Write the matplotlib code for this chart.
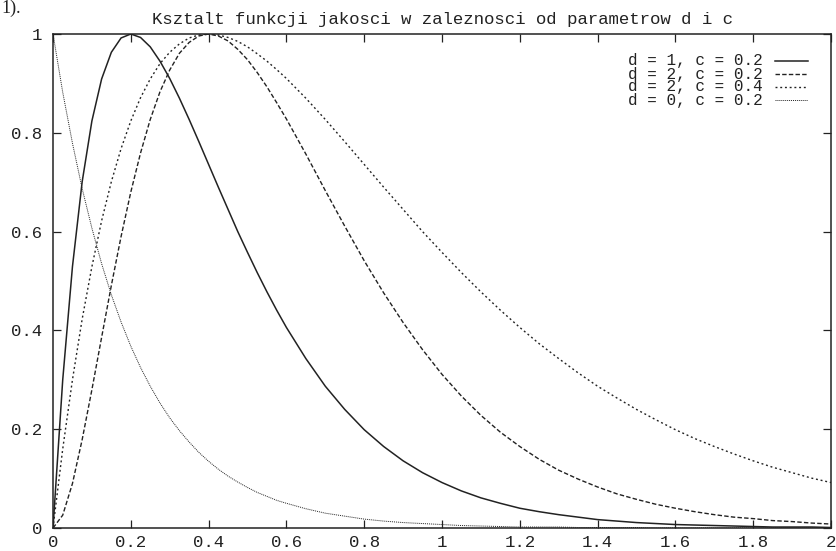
"""Ksztalt funkcji jakosci - wykres w stylu gnuplota."""

import matplotlib

matplotlib.use("Agg")
import matplotlib.pyplot as plt

plt.rcParams["font.family"] = ["Liberation Mono", "DejaVu Sans Mono"]
plt.rcParams["lines.scale_dashes"] = False

TITLE = "Ksztalt funkcji jakosci w zaleznosci od parametrow d i c"

# wartosci
x = [0.0, 0.025, 0.05, 0.075, 0.1, 0.125, 0.15, 0.175, 0.2, 0.225, 0.25, 0.275,
     0.3, 0.325, 0.35, 0.375, 0.4, 0.425, 0.45, 0.475, 0.5, 0.525, 0.55, 0.575,
     0.6, 0.65, 0.7, 0.75, 0.8, 0.85, 0.9, 0.95, 1.0, 1.05, 1.1, 1.15, 1.2,
     1.25, 1.3, 1.35, 1.4, 1.45, 1.5, 1.55, 1.6, 1.65, 1.7, 1.75, 1.8, 1.85,
     1.9, 1.95, 2.0]

q_d1_c02 = [0.0, 0.300, 0.529, 0.701, 0.824, 0.909, 0.963, 0.992, 1.000, 0.993,
            0.974, 0.945, 0.910, 0.870, 0.827, 0.782, 0.736, 0.690, 0.645, 0.600,
            0.558, 0.517, 0.478, 0.441, 0.406, 0.343, 0.287, 0.240, 0.199, 0.165,
            0.136, 0.112, 0.092, 0.075, 0.061, 0.050, 0.040, 0.033, 0.027, 0.022,
            0.017, 0.014, 0.011, 0.009, 0.007, 0.006, 0.005, 0.004, 0.003, 0.002,
            0.002, 0.002, 0.001]

q_d2_c02 = [0.0, 0.026, 0.090, 0.179, 0.280, 0.386, 0.491, 0.590, 0.680, 0.759,
            0.827, 0.883, 0.927, 0.961, 0.983, 0.996, 1.000, 0.996, 0.986, 0.969,
            0.948, 0.922, 0.893, 0.861, 0.828, 0.757, 0.683, 0.611, 0.541, 0.476,
            0.416, 0.361, 0.311, 0.267, 0.228, 0.194, 0.165, 0.139, 0.117, 0.099,
            0.083, 0.069, 0.058, 0.048, 0.040, 0.033, 0.027, 0.022, 0.019, 0.015,
            0.013, 0.010, 0.008]

q_d2_c04 = [0.0, 0.160, 0.300, 0.423, 0.529, 0.622, 0.701, 0.768, 0.824, 0.871,
            0.909, 0.940, 0.963, 0.980, 0.992, 0.998, 1.000, 0.998, 0.993, 0.985,
            0.974, 0.960, 0.945, 0.928, 0.910, 0.870, 0.827, 0.782, 0.736, 0.690,
            0.645, 0.600, 0.558, 0.517, 0.478, 0.441, 0.406, 0.373, 0.343, 0.314,
            0.287, 0.263, 0.240, 0.219, 0.199, 0.181, 0.165, 0.150, 0.136, 0.123,
            0.112, 0.101, 0.092]

q_d0_c02 = [1.000, 0.882, 0.779, 0.687, 0.607, 0.535, 0.472, 0.417, 0.368, 0.325,
            0.287, 0.253, 0.223, 0.197, 0.174, 0.153, 0.135, 0.119, 0.105, 0.093,
            0.082, 0.072, 0.064, 0.056, 0.050, 0.039, 0.030, 0.024, 0.018, 0.014,
            0.011, 0.009, 0.007, 0.005, 0.004, 0.003, 0.002, 0.002, 0.002, 0.001,
            0.001, 0.001, 0.001, 0.0, 0.0, 0.0, 0.0, 0.0, 0.0, 0.0,
            0.0, 0.0, 0.0]

labels = ["d = 1, c = 0.2", "d = 2, c = 0.2", "d = 2, c = 0.4", "d = 0, c = 0.2"]

xticks = [0, 0.2, 0.4, 0.6, 0.8, 1.0, 1.2, 1.4, 1.6, 1.8, 2.0]
xticklabels = ["0", "0.2", "0.4", "0.6", "0.8", "1", "1.2", "1.4", "1.6", "1.8", "2"]
yticks = [0, 0.2, 0.4, 0.6, 0.8, 1.0]
yticklabels = ["0", "0.2", "0.4", "0.6", "0.8", "1"]

INK = "#222222"
W, H = 836, 551

styles = [
    dict(lw=1.1, ls="-"),
    dict(lw=1.0, ls=(0, (3.2, 1.6))),
    dict(lw=1.0, ls=(0, (1.4, 2.0))),
    dict(lw=0.7, ls=(0, (0.7, 0.7))),
]
series = [q_d1_c02, q_d2_c02, q_d2_c04, q_d0_c02]

fig = plt.figure(figsize=(W / 100, H / 100), dpi=100)
ax = fig.add_axes([53 / W, 23 / H, 778 / W, 494 / H])

for ys, st in zip(series, styles):
    ax.plot(x, ys, color=INK, **st)

ax.set_xlim(0, 2)
ax.set_ylim(0, 1)
ax.set_xticks(xticks)
ax.set_xticklabels(xticklabels)
ax.set_yticks(yticks)
ax.set_yticklabels(yticklabels)
ax.tick_params(direction="in", length=6, width=0.9, top=True, right=True,
               colors=INK, labelsize=12.5)
ax.tick_params(axis="y", pad=8)
ax.tick_params(axis="x", pad=5)
for sp in ax.spines.values():
    sp.set_linewidth(1.1)
    sp.set_color(INK)

ax.set_title(TITLE, fontsize=12.5, color=INK, pad=7)

# legenda w stylu gnuplota (tekst po lewej, probka linii po prawej)
row_px = [61, 74, 87, 100]
for lab, st, rp in zip(labels, styles, row_px):
    yy = (528 - rp) / 494
    ax.text(0.9126, yy, lab, transform=ax.transAxes, ha="right", va="center",
            fontsize=11.5, color=INK)
    ax.plot([0.928, 0.970], [yy, yy], transform=ax.transAxes, color=INK, **st)

fig.text(1 / W, 1 - 13 / H, "1).", family="Liberation Serif", fontsize=13,
         color=INK, va="baseline", ha="left")

fig.savefig("out.png", dpi=100)
